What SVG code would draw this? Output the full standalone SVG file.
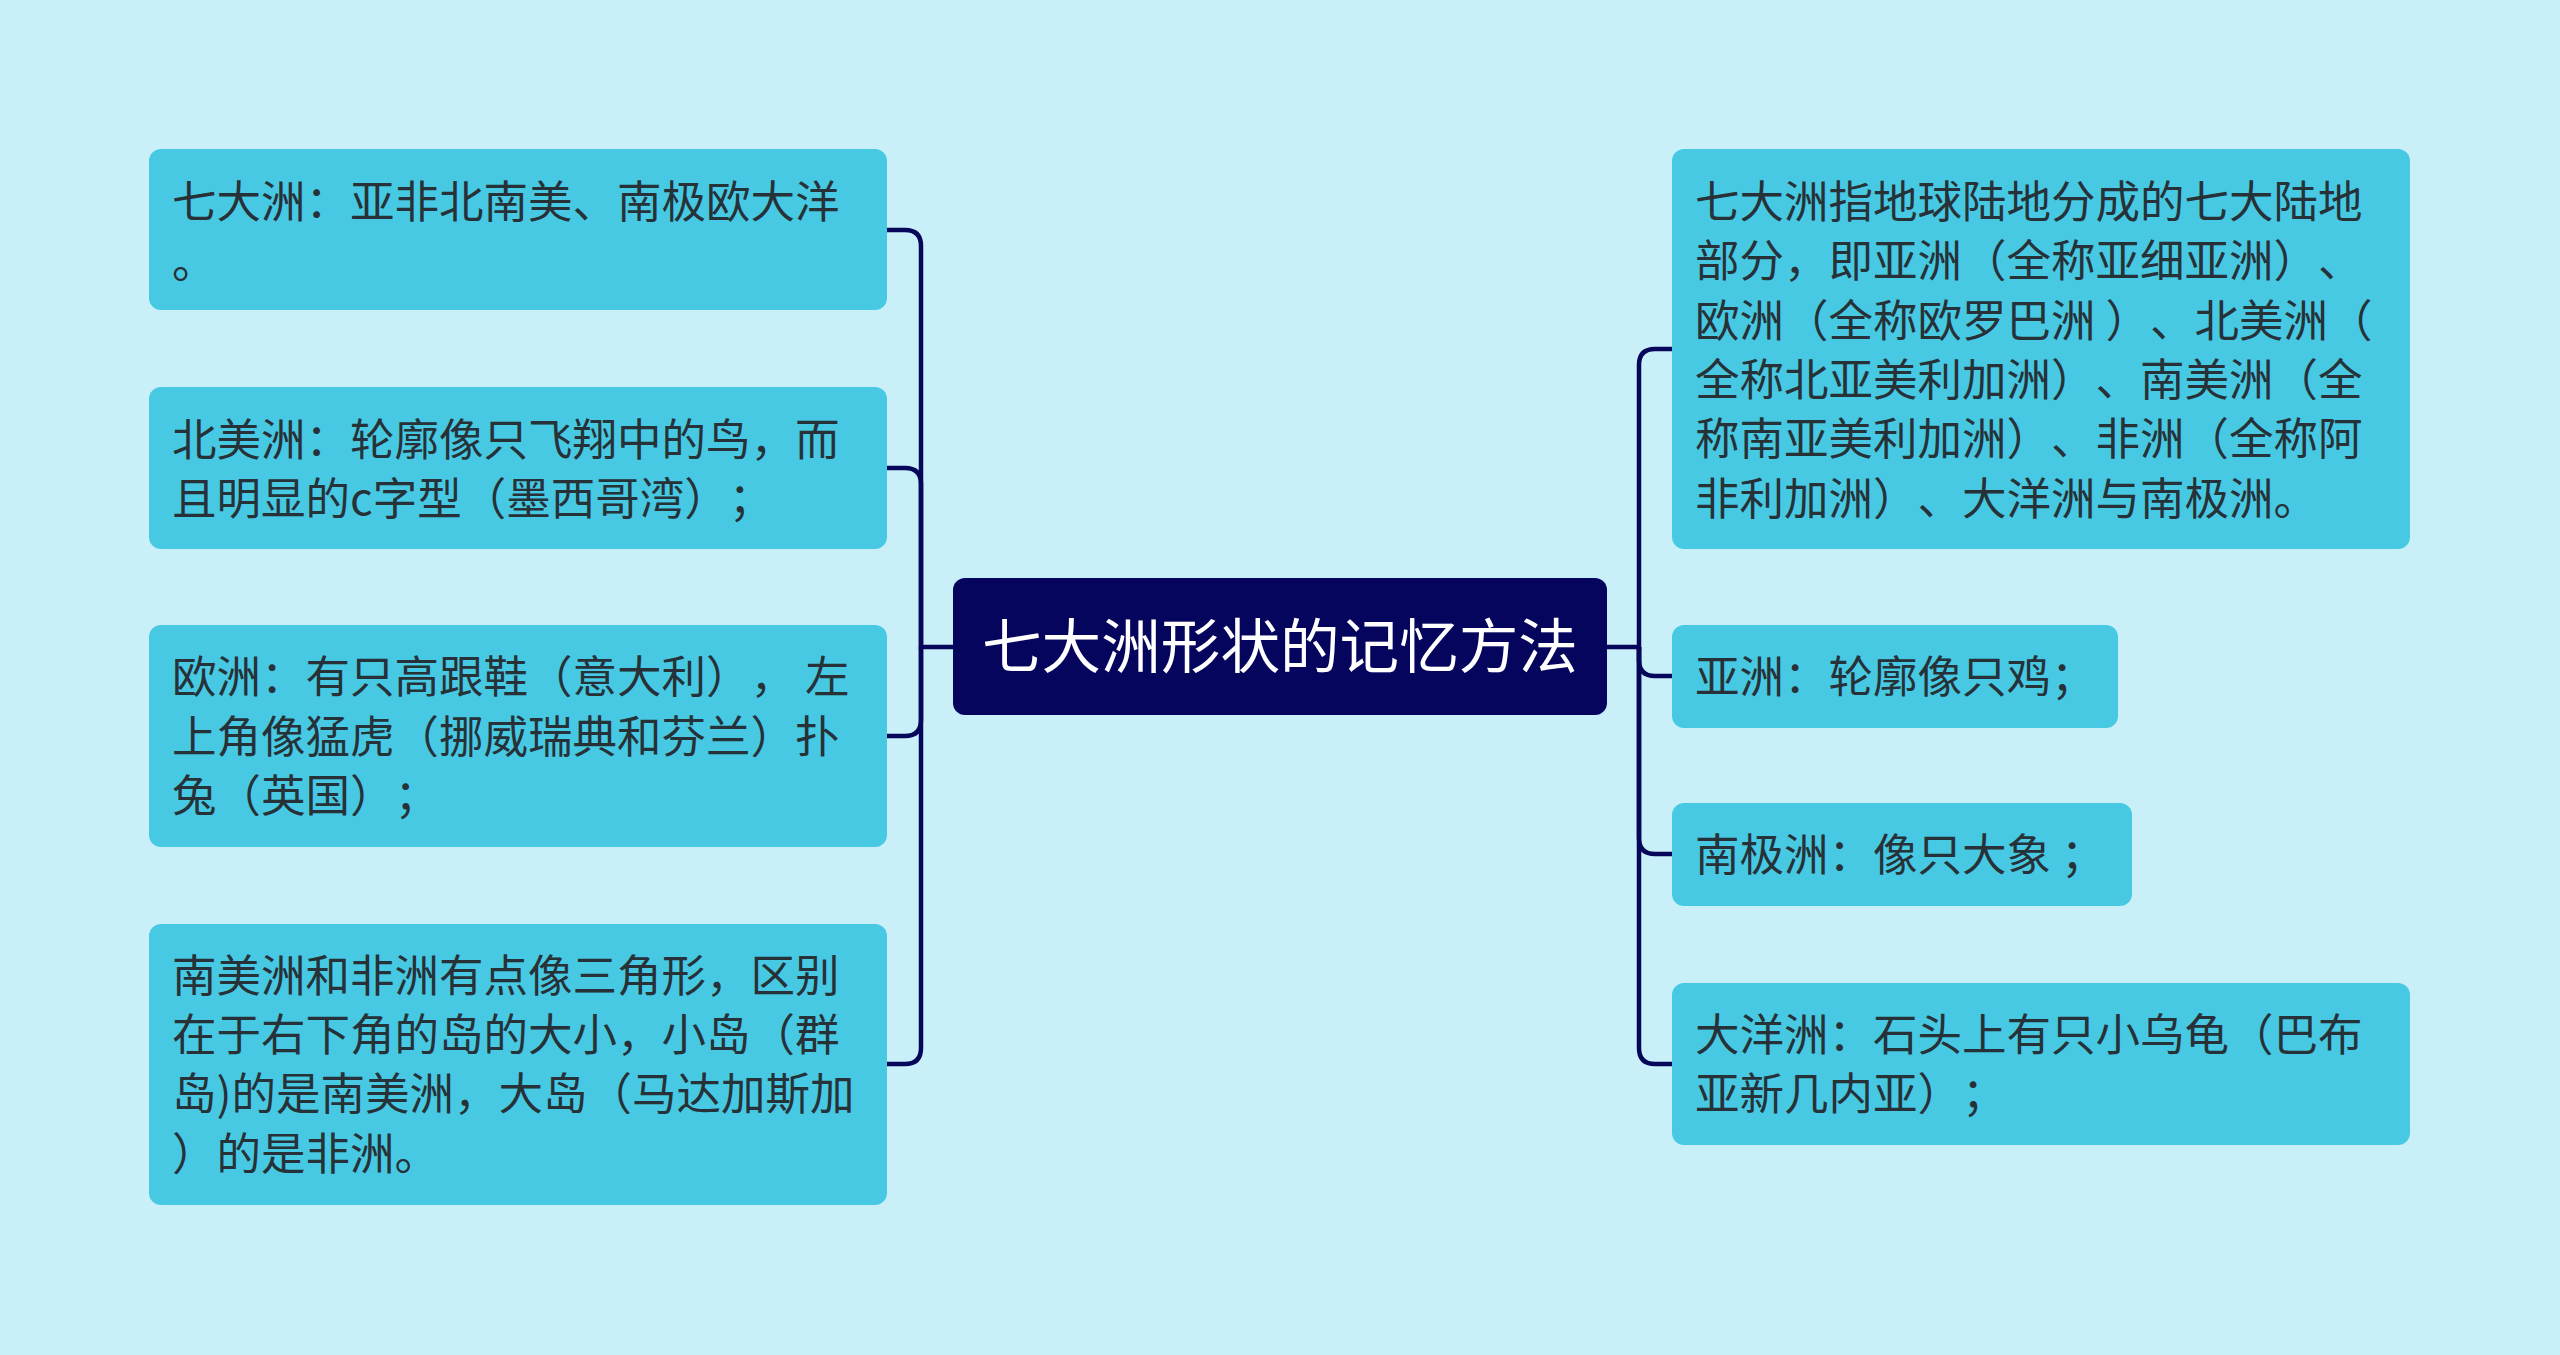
<svg xmlns="http://www.w3.org/2000/svg" width="2560" height="1355" viewBox="0 0 2560 1355">
<style>
.box{fill:#48C9E3;}
.t{font-family:"Noto Sans CJK SC","Noto Sans",sans-serif;font-size:44.5px;fill:#263238;white-space:pre;text-spacing-trim:space-all;font-feature-settings:"chws" 0,"halt" 0;}
.title{font-family:"Noto Sans CJK SC","Noto Sans",sans-serif;font-size:59.6px;fill:#FFFFFF;}
.c{fill:none;stroke:#06065A;stroke-width:4.5;}
</style>
<rect width="2560" height="1355" fill="#C9F0F8"/>
<g id="connectors">
<path class="c" d="M953 647 H921 V246 Q921 230 905 230 H887"/>
<path class="c" d="M921 647 V484 Q921 468 905 468 H887"/>
<path class="c" d="M921 647 V720 Q921 736 905 736 H887"/>
<path class="c" d="M921 647 V1048 Q921 1064 905 1064 H887"/>
<path class="c" d="M1607 647 H1639 V365 Q1639 349 1655 349 H1672"/>
<path class="c" d="M1639 647 V660 Q1639 676 1655 676 H1672"/>
<path class="c" d="M1639 647 V838 Q1639 854 1655 854 H1672"/>
<path class="c" d="M1639 647 V1048 Q1639 1064 1655 1064 H1672"/>
</g>
<g id="center">
<rect x="953" y="578" width="654" height="137" rx="12" fill="#05055E"/>
<text class="title" x="1280" y="668" text-anchor="middle">七大洲形状的记忆方法</text>
</g>
<g id="l1">
<rect class="box" x="149" y="149" width="738" height="161" rx="12"/>
<text class="t" x="172" y="218">七大洲：亚非北南美、南极欧大洋</text>
<text class="t" x="172" y="278">。</text>
</g>
<g id="l2">
<rect class="box" x="149" y="387" width="738" height="162" rx="12"/>
<text class="t" x="172" y="456">北美洲：轮廓像只飞翔中的鸟，而</text>
<text class="t" x="172" y="515">且明显的c字型（墨西哥湾）；</text>
</g>
<g id="l3">
<rect class="box" x="149" y="625" width="738" height="222" rx="12"/>
<text class="t" x="172" y="693">欧洲：有只高跟鞋（意大利）， 左</text>
<text class="t" x="172" y="753">上角像猛虎（挪威瑞典和芬兰）扑</text>
<text class="t" x="172" y="812">兔（英国）；</text>
</g>
<g id="l4">
<rect class="box" x="149" y="924" width="738" height="281" rx="12"/>
<text class="t" x="172" y="992">南美洲和非洲有点像三角形，区别</text>
<text class="t" x="172" y="1051">在于右下角的岛的大小，小岛（群</text>
<text class="t" x="172" y="1110">岛)的是南美洲，大岛（马达加斯加</text>
<text class="t" x="172" y="1170">）的是非洲。</text>
</g>
<g id="r1">
<rect class="box" x="1672" y="149" width="738" height="400" rx="12"/>
<text class="t" x="1695" y="218">七大洲指地球陆地分成的七大陆地</text>
<text class="t" x="1695" y="277">部分，即亚洲（全称亚细亚洲）、</text>
<text class="t" x="1695" y="337">欧洲（全称欧罗巴洲 ）、北美洲（</text>
<text class="t" x="1695" y="396">全称北亚美利加洲）、南美洲（全</text>
<text class="t" x="1695" y="455">称南亚美利加洲）、非洲（全称阿</text>
<text class="t" x="1695" y="515">非利加洲）、大洋洲与南极洲。</text>
</g>
<g id="r2">
<rect class="box" x="1672" y="625" width="446" height="103" rx="12"/>
<text class="t" x="1695" y="693">亚洲：轮廓像只鸡；</text>
</g>
<g id="r3">
<rect class="box" x="1672" y="803" width="460" height="103" rx="12"/>
<text class="t" x="1695" y="871">南极洲：像只大象 ；</text>
</g>
<g id="r4">
<rect class="box" x="1672" y="983" width="738" height="162" rx="12"/>
<text class="t" x="1695" y="1051">大洋洲：石头上有只小乌龟（巴布</text>
<text class="t" x="1695" y="1110">亚新几内亚）；</text>
</g>
</svg>
